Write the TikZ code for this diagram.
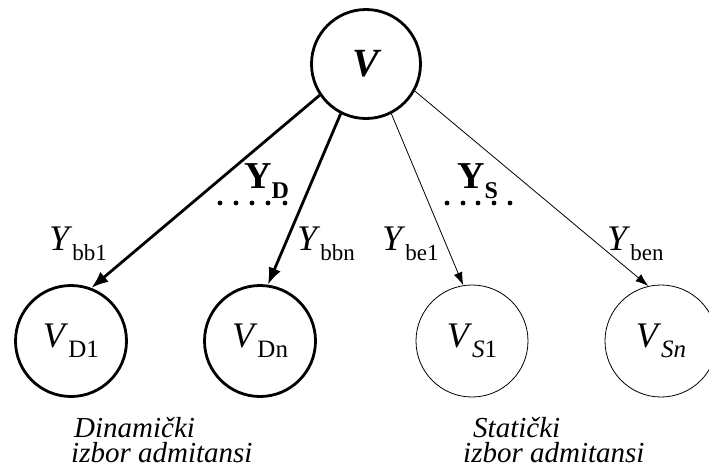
\documentclass[tikz,border=0pt]{standalone}
\usepackage{fontspec}
\setmainfont{Liberation Serif}
\usetikzlibrary{arrows.meta}
\newcommand\ysub[1]{\textit{Y}\raisebox{-10pt}{\fontsize{23}{23}\selectfont #1}}
\newcommand\vsub[1]{\textit{V}\raisebox{-10pt}{\fontsize{25}{25}\selectfont #1}}
\newcommand\ybold[1]{\textbf{Y}\raisebox{-10pt}{\fontsize{24}{24}\selectfont\bfseries #1}}
\begin{document}
\begin{tikzpicture}[x=1pt,y=-1pt,
  thickcirc/.style={circle, draw, line width=2.8pt, minimum size=111pt, inner sep=0pt},
  thincirc/.style={circle, draw, line width=0.8pt, minimum size=112pt, inner sep=0pt},
  thickarr/.style={line width=2.8pt, -{Latex[length=17pt,width=13pt]}},
  thinarr/.style={line width=0.8pt, -{Latex[length=13pt,width=9pt]}},
  circtext/.style={font=\fontsize{36}{36}\selectfont},
  ylabel/.style={anchor=base west, inner sep=0pt, font=\fontsize{36}{36}\selectfont},
  groupname/.style={anchor=north west, inner sep=0pt, align=left, font=\fontsize{29}{25}\selectfont\itshape},
  dot/.style={fill=black}
]
\useasboundingbox (0,0) rectangle (709,472);

\node[thickcirc, font=\fontsize{40}{40}\selectfont\bfseries\itshape, minimum size=109pt] (V) at (366,64) {V};
\node[thickcirc, circtext] (D1) at (71,341) {\vsub{D1}};
\node[thickcirc, circtext] (Dn) at (260,341) {\vsub{Dn}};
\node[thincirc, circtext] (S1) at (472,341) {\vsub{\textit{S}1}};
\node[thincirc, circtext] (Sn) at (661,341) {\vsub{\textit{Sn}}};

\draw[thickarr] (V.214) -- (D1.69);
\draw[thickarr] (V.243) -- (Dn.82);
\draw[thinarr] (V.297) -- (S1.99);
\draw[thinarr] (V.331) -- (Sn.103);

\node[ylabel] (ybb1) at (49,250) {\ysub{bb1}};
\node[ylabel] (ybbn) at (297,250) {\ysub{bbn}};
\node[ylabel] (ybe1) at (382,250) {\ysub{be1}};
\node[ylabel] (yben) at (607,250) {\ysub{ben}};

\node[ylabel, font=\fontsize{38}{38}\selectfont] (yd) at (244,188) {\ybold{D}};
\node[ylabel, font=\fontsize{38}{38}\selectfont] (ys) at (457,188) {\ybold{S}};

\foreach \x in {220,236,252,268,285} \fill[dot] (\x,203) circle (2.4pt);
\foreach \x in {447,463,478,494,510} \fill[dot] (\x,203) circle (2.4pt);

\node[groupname] (dyn) at (71,417) {\hspace*{3pt}Dinamički\\izbor admitansi};
\node[groupname] (sta) at (463,417) {\hspace*{10pt}Statički\\izbor admitansi};
\end{tikzpicture}
\end{document}
